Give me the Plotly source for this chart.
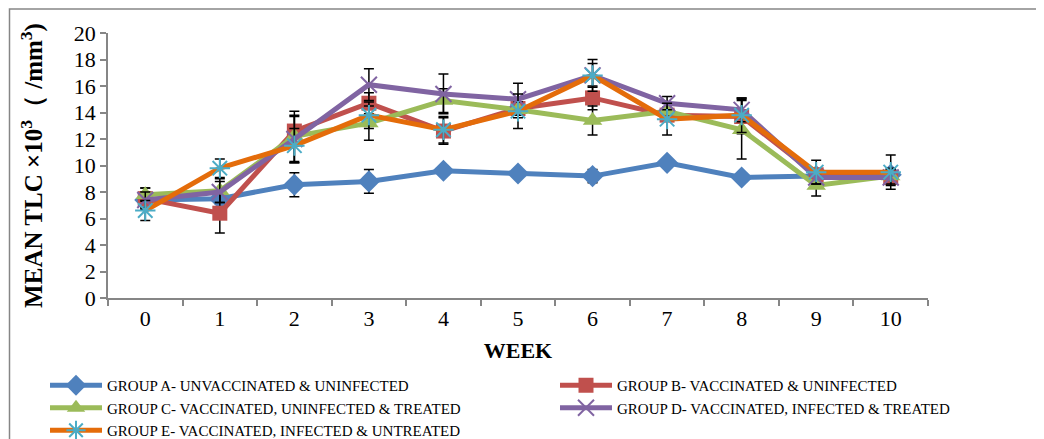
import plotly.graph_objects as go

weeks = [0, 1, 2, 3, 4, 5, 6, 7, 8, 9, 10]
tick_labels = ["0", "1", "2", "3", "4", "5", "6", "7", "8", "9", "10"]

names = [
    "GROUP A- UNVACCINATED & UNINFECTED",
    "GROUP B- VACCINATED & UNINFECTED",
    "GROUP C- VACCINATED, UNINFECTED & TREATED",
    "GROUP D- VACCINATED, INFECTED & TREATED",
    "GROUP E- VACCINATED, INFECTED & UNTREATED",
]

group_a = [7.4, 7.5, 8.55, 8.8, 9.6, 9.4, 9.2, 10.2, 9.1, 9.2, 9.3]
group_b = [7.5, 6.4, 12.6, 14.7, 12.6, 14.3, 15.1, 13.8, 13.7, 9.3, 9.1]
group_c = [7.8, 8.1, 12.2, 13.2, 14.9, 14.2, 13.4, 14.1, 12.7, 8.5, 9.2]
group_d = [7.4, 8.0, 12.0, 16.1, 15.4, 15.0, 16.8, 14.7, 14.2, 9.1, 9.1]
group_e = [6.6, 9.8, 11.5, 13.8, 12.7, 14.1, 16.8, 13.5, 13.8, 9.5, 9.5]

err_a = [0.6, 0.4, 0.9, 0.9, 0.3, 0.3, 0.5, 0.3, 0.3, 0.3, 0.3]
err_b = [0.8, 1.5, 1.1, 0.8, 1.0, 0.5, 0.9, 0.4, 1.3, 0.4, 0.5]
err_c = [0.5, 0.9, 1.9, 1.3, 0.9, 0.6, 1.1, 0.3, 2.2, 0.8, 0.6]
err_d = [0.6, 0.8, 1.8, 1.2, 1.5, 1.2, 0.9, 0.5, 0.9, 0.5, 0.6]
err_e = [0.75, 0.7, 1.3, 1.0, 1.0, 1.3, 1.2, 1.2, 1.3, 0.9, 1.3]

values = [group_a, group_b, group_c, group_d, group_e]
errors = [err_a, err_b, err_c, err_d, err_e]
line_colors = ["#4F81BD", "#C0504D", "#9BBB59", "#8064A2", "#E46C0A"]
markers = [
    dict(symbol="diamond", size=17, color="#4F81BD"),
    dict(symbol="square", size=15, color="#C0504D"),
    dict(symbol="triangle-up", size=17, color="#9BBB59"),
    dict(symbol="x-thin-open", size=16, color="#8064A2", line=dict(color="#8064A2", width=2)),
    dict(symbol="asterisk-open", size=17, color="#4BACC6", line=dict(color="#4BACC6", width=2)),
]
legend_ids = ["legend", "legend2", "legend", "legend2", "legend"]

fig = go.Figure()
for name, vals, errs, col, mk, lg in zip(names, values, errors, line_colors, markers, legend_ids):
    fig.add_trace(go.Scatter(
        x=weeks, y=vals, name=name, mode="lines+markers",
        line=dict(color=col, width=5),
        marker=mk, legend=lg,
        error_y=dict(type="data", array=errs, visible=True, color="black", thickness=1.5, width=5),
    ))

# layout geometry (figure pixels; page adds an 8px body margin)
L, T, W, H = 100, 25, 820, 265
FW, FH = 1044, 439


def px_x(fx):
    return (fx - L) / W


def px_y(fy):
    return (T + H - fy) / H


serif = "Liberation Serif, Times New Roman, serif"
leg_common = dict(
    orientation="v", xref="paper", yref="paper",
    xanchor="left", yanchor="top", y=px_y(361),
    font=dict(family=serif, size=15, color="black"),
    itemwidth=52, tracegroupgap=0, bgcolor="rgba(0,0,0,0)",
)
fig.update_layout(
    width=FW, height=FH,
    margin=dict(l=L, r=FW - L - W, t=T, b=FH - T - H, autoexpand=False),
    paper_bgcolor="white", plot_bgcolor="white",
    font=dict(family=serif, color="black"),
    showlegend=True,
    legend=dict(x=px_x(37), **leg_common),
    legend2=dict(x=px_x(547), **leg_common),
    xaxis=dict(
        range=[-0.5, 10.5], automargin=False,
        tickmode="array", tickvals=weeks, ticktext=tick_labels,
        ticks="", showline=True, linecolor="#868686", linewidth=1.5,
        showgrid=False, zeroline=False,
        tickfont=dict(family=serif, size=22),
        minor=dict(tickmode="linear", tick0=-0.5, dtick=1, ticks="outside", ticklen=6,
                   tickcolor="#868686", tickwidth=1.5, showgrid=False),
        title=dict(text="<b>WEEK</b>", font=dict(family=serif, size=22), standoff=12),
    ),
    yaxis=dict(
        range=[0, 20], tickmode="linear", tick0=0, dtick=2, automargin=False,
        ticks="outside", ticklen=6, tickcolor="#868686", tickwidth=1.5,
        showline=True, linecolor="#868686", linewidth=1.5,
        showgrid=False, zeroline=False,
        tickfont=dict(family=serif, size=22),
        title=dict(text="<b>MEAN TLC ×10<sup>3</sup>（ /mm<sup>3</sup>)</b>",
                   font=dict(family=serif, size=25), standoff=24),
    ),
    shapes=[dict(type="rect", xref="paper", yref="paper",
                 x0=px_x(1.5), x1=px_x(1080),
                 y0=px_y(480), y1=px_y(1),
                 line=dict(color="#868686", width=1.5), layer="below")],
)

fig.write_html("out.html")
